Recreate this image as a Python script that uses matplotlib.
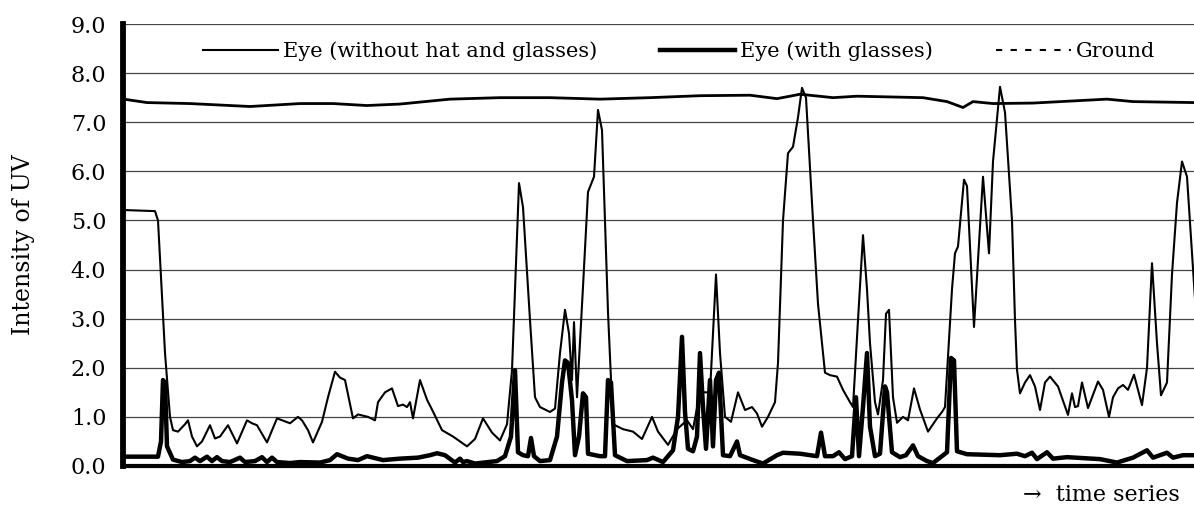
import matplotlib
matplotlib.use("Agg")
import matplotlib.pyplot as plt
from matplotlib.lines import Line2D

# time steps (arbitrary sample index) and UV intensity
t_bare = [4, 32, 35, 42, 47, 50, 55, 62, 65, 69,
          74, 79, 87, 92, 97, 105, 114, 124, 129, 134,
          144, 154, 167, 175, 179, 185, 190, 199, 205, 212,
          217, 222, 230, 235, 245, 252, 255, 262, 269, 275,
          280, 284, 287, 290, 297, 304, 309, 319, 330, 344,
          352, 360, 369, 377, 384, 389, 396, 400, 407, 412,
          417, 427, 432, 437, 442, 446, 449, 451, 454, 460,
          465, 471, 475, 479, 485, 490, 500, 510, 519, 529,
          535, 545, 554, 564, 570, 577, 582, 587, 593, 597,
          602, 608, 615, 622, 629, 634, 639, 645, 652, 655,
          660, 665, 670, 675, 679, 683, 690, 695, 702, 707,
          714, 720, 727, 730, 735, 740, 744, 747, 752, 755,
          760, 763, 766, 770, 774, 780, 785, 791, 797, 805,
          814, 819, 822, 825, 829, 832, 835, 841, 844, 851,
          860, 866, 870, 877, 882, 889, 892, 894, 897, 902,
          907, 912, 917, 922, 927, 935, 945, 949, 952, 955,
          959, 965, 975, 980, 986, 990, 995, 1000, 1005, 1011,
          1019, 1024, 1029, 1034, 1038, 1044, 1049, 1054, 1059, 1064,
          1071, 1075]
uv_bare = [5.21, 5.19, 5.0, 2.3, 1.0, 0.73, 0.7, 0.85, 0.93, 0.6,
           0.4, 0.5, 0.83, 0.56, 0.6, 0.83, 0.46, 0.93, 0.87, 0.83,
           0.48, 0.97, 0.87, 1.0, 0.93, 0.73, 0.48, 0.9, 1.4, 1.92,
           1.8, 1.75, 0.97, 1.05, 1.0, 0.93, 1.3, 1.5, 1.58, 1.22,
           1.25, 1.2, 1.3, 0.97, 1.75, 1.35, 1.15, 0.73, 0.6, 0.4,
           0.55, 0.97, 0.68, 0.52, 0.85, 1.95, 5.76, 5.27, 2.97, 1.4,
           1.2, 1.1, 1.17, 2.3, 3.18, 2.7, 1.75, 2.93, 1.4, 3.65,
           5.58, 5.89, 7.25, 6.84, 3.13, 0.85, 0.75, 0.7, 0.55, 1.0,
           0.7, 0.43, 0.75, 0.93, 0.75, 1.5, 1.5, 1.5, 3.9, 2.3,
           1.0, 0.9, 1.5, 1.14, 1.2, 1.07, 0.8, 1.0, 1.3, 2.1,
           5.0, 6.37, 6.5, 7.1, 7.7, 7.5, 5.0, 3.3, 1.9, 1.85,
           1.82, 1.55, 1.3, 1.2, 2.97, 4.7, 3.6, 2.5, 1.3, 1.05,
           1.75, 3.1, 3.18, 1.4, 0.88, 1.0, 0.93, 1.58, 1.15, 0.7,
           0.97, 1.1, 1.2, 2.22, 3.6, 4.33, 4.47, 5.83, 5.7, 2.83,
           5.89, 4.33, 6.2, 7.72, 7.2, 5.0, 2.97, 1.96, 1.48, 1.7,
           1.85, 1.62, 1.14, 1.7, 1.82, 1.62, 1.04, 1.48, 1.2, 1.22,
           1.7, 1.18, 1.72, 1.55, 1.0, 1.4, 1.58, 1.65, 1.55, 1.86,
           1.24, 2.0, 4.13, 2.5, 1.44, 1.7, 3.9, 5.36, 6.2, 5.89,
           3.7, 2.5]

t_glasses = [4, 35, 38, 40, 42, 44, 50, 59, 67, 72,
             77, 84, 89, 94, 99, 107, 117, 122, 132, 139,
             144, 149, 154, 167, 177, 197, 207, 214, 225, 235,
             244, 252, 260, 277, 295, 307, 314, 322, 332, 337,
             340, 344, 352, 374, 382, 388, 392, 395, 400, 405,
             408, 411, 417, 427, 434, 439, 442, 445, 449, 452,
             456, 460, 463, 465, 477, 482, 485, 488, 492, 504,
             524, 530, 540, 550, 555, 559, 562, 565, 570, 574,
             577, 580, 583, 587, 590, 593, 596, 600, 607, 614,
             617, 630, 640, 654, 660, 677, 694, 698, 702, 710,
             716, 722, 729, 733, 736, 740, 744, 747, 752, 757,
             762, 764, 769, 777, 783, 790, 795, 804, 810, 817,
             824, 828, 831, 834, 844, 877, 894, 902, 909, 914,
             924, 930, 944, 977, 994, 1010, 1024, 1030, 1044, 1050,
             1060, 1071]
uv_glasses = [0.19, 0.19, 0.5, 1.75, 1.7, 0.4, 0.13, 0.08, 0.1, 0.17,
              0.1, 0.19, 0.1, 0.18, 0.1, 0.08, 0.17, 0.08, 0.1, 0.18,
              0.08, 0.17, 0.08, 0.06, 0.08, 0.07, 0.12, 0.24, 0.15, 0.12,
              0.2, 0.16, 0.12, 0.15, 0.17, 0.22, 0.26, 0.22, 0.07, 0.15,
              0.08, 0.1, 0.05, 0.1, 0.2, 0.6, 1.95, 0.28, 0.22, 0.2,
              0.57, 0.2, 0.1, 0.12, 0.6, 1.7, 2.15, 2.1, 1.34, 0.22,
              0.6, 1.48, 1.4, 0.25, 0.2, 0.2, 1.75, 1.7, 0.22, 0.1,
              0.12, 0.17, 0.08, 0.32, 1.0, 2.63, 1.1, 0.35, 0.3, 0.6,
              2.3, 1.2, 0.35, 1.75, 0.4, 1.75, 1.9, 0.22, 0.2, 0.5,
              0.22, 0.12, 0.05, 0.22, 0.27, 0.25, 0.2, 0.68, 0.2, 0.2,
              0.28, 0.14, 0.2, 1.4, 0.2, 1.2, 2.3, 0.8, 0.2, 0.25,
              1.62, 1.5, 0.28, 0.18, 0.22, 0.42, 0.2, 0.1, 0.06, 0.17,
              0.28, 2.2, 2.15, 0.3, 0.24, 0.22, 0.25, 0.2, 0.27, 0.14,
              0.28, 0.15, 0.18, 0.14, 0.07, 0.17, 0.32, 0.17, 0.27, 0.17,
              0.22, 0.22]

t_ground = [4, 24, 67, 97, 127, 177, 210, 244, 277, 327,
            377, 427, 477, 527, 577, 627, 654, 667, 677, 710,
            734, 800, 824, 840, 850, 870, 910, 984, 1010, 1071]
uv_ground = [7.46, 7.4, 7.38, 7.35, 7.32, 7.38, 7.38, 7.34, 7.37, 7.47,
             7.5, 7.5, 7.47, 7.5, 7.54, 7.55, 7.48, 7.53, 7.57, 7.5,
             7.53, 7.5, 7.42, 7.3, 7.42, 7.38, 7.39, 7.47, 7.42, 7.4]

y_ticks = [0, 1, 2, 3, 4, 5, 6, 7, 8, 9]

serif = "DejaVu Serif"

fig = plt.figure(figsize=(11.94, 5.09), dpi=100)
ax = fig.add_axes([123 / 1194, 1 - 466 / 509, 1 - 123 / 1194, (466 - 24) / 509])

ax.plot(t_ground, uv_ground, color="black", lw=2.0, zorder=3)
ax.plot(t_bare, uv_bare, color="black", lw=1.5, zorder=4)
ax.plot(t_glasses, uv_glasses, color="black", lw=3.2, zorder=5)

ax.set_xlim(0, 1071)
ax.set_ylim(0, 9)
ax.set_yticks(y_ticks)
ax.set_yticklabels(["%.1f" % v for v in y_ticks], family=serif, fontsize=16)
ax.set_xticks([])
ax.tick_params(axis="y", length=0, pad=12)
ax.grid(axis="y", color="#444444", lw=0.9)
ax.set_axisbelow(True)

for side in ["top", "right"]:
    ax.spines[side].set_visible(False)
ax.spines["left"].set_linewidth(4.2)
ax.spines["bottom"].set_linewidth(3.0)

handles = [Line2D([], [], color="black", lw=1.5),
           Line2D([], [], color="black", lw=3.2),
           Line2D([], [], color="black", lw=1.5, linestyle=(0, (3, 4)))]
labels = ["Eye (without hat and glasses)", "Eye (with glasses)", "Ground"]
ax.legend(handles, labels, ncol=3, frameon=False, loc="center left",
          bbox_to_anchor=((203 - 123) / 1071, 8.45 / 9), borderpad=0,
          borderaxespad=0, handlelength=3.6, handletextpad=0.25,
          columnspacing=3.0, prop={"family": serif, "size": 15})

fig.text(24 / 1194, 1 - 245 / 509, "Intensity of UV", rotation=90,
         ha="center", va="center", family=serif, fontsize=17)
fig.text(1180 / 1194, 1 - 495 / 509, "\u2192  time series", ha="right",
         va="center", family=serif, fontsize=16)

fig.savefig("out.png", dpi=100)
